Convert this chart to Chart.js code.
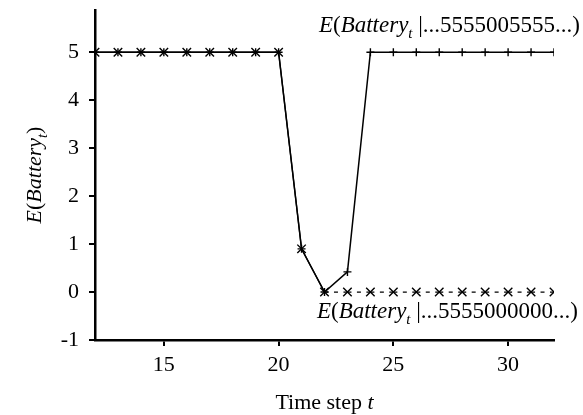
<!DOCTYPE html>
<html>
<head>
<meta charset="utf-8">
<script src="https://cdn.jsdelivr.net/npm/chart.js@4"></script>
<style>
  html, body { margin: 0; padding: 0; background: #fff; }
  #wrap { width: 583px; height: 415px; }
</style>
</head>
<body>
<div id="wrap"><canvas id="chart"></canvas></div>
<script>
// time steps and expected battery values
const timeSteps = [12, 13, 14, 15, 16, 17, 18, 19, 20, 21, 22, 23, 24, 25, 26, 27, 28, 29, 30, 31, 32];
const obs5555005555 = [5, 5, 5, 5, 5, 5, 5, 5, 5, 0.9, 0, 0.42, 5, 5, 5, 5, 5, 5, 5, 5, 5];
const obs5555000000 = [5, 5, 5, 5, 5, 5, 5, 5, 5, 0.9, 0, 0, 0, 0, 0, 0, 0, 0, 0, 0, 0];
const xTicks = [15, 20, 25, 30];
const yTicks = [-1, 0, 1, 2, 3, 4, 5];

const serif = '"Liberation Serif", "DejaVu Serif", serif';
const fs = 22;

function toPoints(vals) {
    return timeSteps.map((t, i) => ({ x: t, y: vals[i] }));
}

// draws mixed roman / italic / subscript text
function richText(ctx, parts, x, y, align, size) {
    let w = 0;
    parts.forEach(p => {
        ctx.font = (p.it ? 'italic ' : '') + (p.sub ? size * 0.65 : size) + 'px ' + serif;
        p.w = ctx.measureText(p.t).width;
        w += p.w;
    });
    let cx = align === 'right' ? x - w : align === 'center' ? x - w / 2 : x;
    parts.forEach(p => {
        ctx.font = (p.it ? 'italic ' : '') + (p.sub ? size * 0.65 : size) + 'px ' + serif;
        ctx.fillText(p.t, cx, p.sub ? y + 6 : y);
        cx += p.w;
    });
}

const labelsPlugin = {
    id: 'labels',
    afterDraw(chart) {
        const ctx = chart.ctx;
        const a = chart.chartArea;
        ctx.save();
        ctx.fillStyle = '#000';
        ctx.textBaseline = 'alphabetic';
        richText(ctx, [{t: 'E', it: true}, {t: '('}, {t: 'Battery', it: true}, {t: 't', it: true, sub: true}, {t: ' |...5555005555...)'}],
            a.right + 26, 32, 'right', 23);
        richText(ctx, [{t: 'E', it: true}, {t: '('}, {t: 'Battery', it: true}, {t: 't', it: true, sub: true}, {t: ' |...5555000000...)'}],
            a.right + 24, 318, 'right', 23);
        richText(ctx, [{t: 'Time step '}, {t: 't', it: true}], (a.left + a.right) / 2, 409, 'center', fs);
        ctx.translate(41, (a.top + a.bottom) / 2);
        ctx.rotate(-Math.PI / 2);
        richText(ctx, [{t: 'E', it: true}, {t: '('}, {t: 'Battery', it: true}, {t: 't', it: true, sub: true}, {t: ')'}], 0, 0, 'center', fs);
        ctx.restore();
    }
};

// one short dash between neighbouring markers, restarting at t = 22
function tailDash(c) {
    if (c.p0.parsed.x < 22) return [];
    const step = c.p1.x - c.p0.x;
    const g = (step - 12) / 2;
    return [8, g, 4, g];
}

new Chart(document.getElementById('chart'), {
    type: 'line',
    data: {
        datasets: [{
            label: '5555000000',
            data: toPoints(obs5555000000),
            borderColor: '#000',
            borderWidth: 1.3,
            pointStyle: 'crossRot',
            pointRadius: 6,
            pointBorderColor: '#000',
            pointBorderWidth: 1.4,
            tension: 0,
            segment: {
                borderDash: tailDash,
                borderDashOffset: c => c.p0.parsed.x < 22 ? 0 : 4
            }
        }, {
            label: '5555005555',
            data: toPoints(obs5555005555),
            borderColor: '#000',
            borderWidth: 1.5,
            pointStyle: 'cross',
            pointRadius: 4,
            pointBorderColor: '#000',
            pointBorderWidth: 1.4,
            tension: 0
        }]
    },
    options: {
        responsive: true,
        maintainAspectRatio: false,
        animation: false,
        layout: { padding: { top: 10, right: 29, left: 0, bottom: 0 } },
        plugins: { legend: { display: false }, tooltip: { enabled: false } },
        scales: {
            x: {
                type: 'linear',
                min: 12,
                max: 32,
                afterBuildTicks: s => { s.ticks = xTicks.map(v => ({ value: v })); },
                afterFit: s => { s.height = 75; },
                grid: { drawOnChartArea: false, drawTicks: true, tickLength: 6, color: '#000', lineWidth: 2 },
                border: { display: true, color: '#000', width: 2.5 },
                ticks: { color: '#000', font: { family: serif, size: fs }, padding: 6, maxRotation: 0 }
            },
            y: {
                min: -1,
                max: 5.88,
                afterBuildTicks: s => { s.ticks = yTicks.map(v => ({ value: v })); },
                afterFit: s => { s.width = 95; s.paddingTop = 0; s.paddingBottom = 0; },
                grid: { drawOnChartArea: false, drawTicks: true, tickLength: 6, color: '#000', lineWidth: 2 },
                border: { display: true, color: '#000', width: 2.5 },
                ticks: { color: '#000', font: { family: serif, size: fs }, padding: 10 }
            }
        }
    },
    plugins: [labelsPlugin]
});
</script>
</body>
</html>
